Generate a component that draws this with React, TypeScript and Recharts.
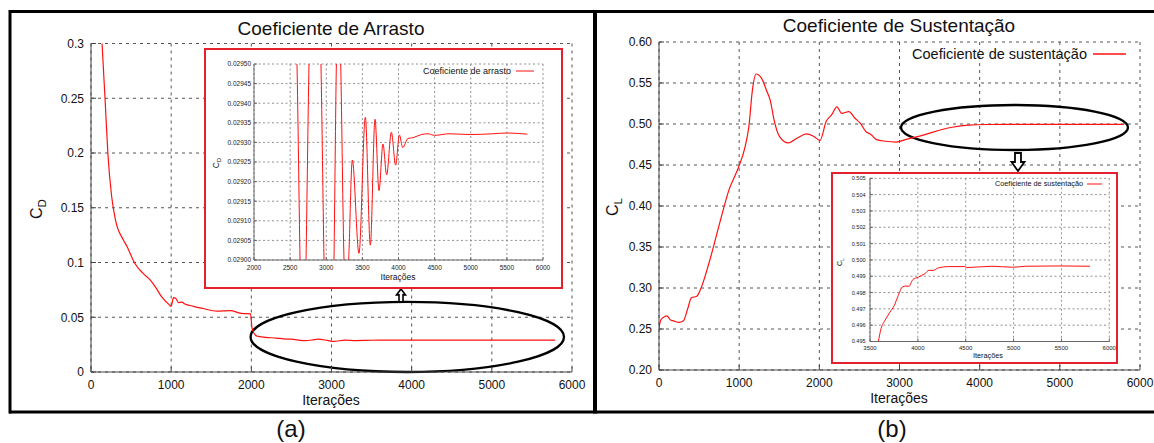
import React from 'react';
import { LineChart, Line, XAxis, YAxis, CartesianGrid, ReferenceArea, ReferenceDot } from 'recharts';

const FONT = '"Liberation Sans", Arial, Helvetica, sans-serif';

// ---------- (a) Coeficiente de Arrasto : main plot ----------
const dragIter = [0, 60, 138, 175, 210, 258, 305, 401, 449, 544, 650, 735, 800, 878, 974, 1000, 1029, 1060, 1091, 1134, 1165, 1279, 1400, 1571, 1737, 1881, 1990, 2009, 2063, 2175, 2310, 2404, 2500, 2644, 2760, 2835, 2950, 3026, 3170, 3300, 3408, 3600, 4000, 4500, 5000, 5500, 5790];
const dragValue = [0.8, 0.45, 0.3, 0.25, 0.2, 0.16, 0.139, 0.121, 0.1147, 0.0995, 0.09, 0.0843, 0.078, 0.069, 0.0615, 0.06, 0.068, 0.067, 0.0634, 0.0638, 0.0624, 0.06, 0.058, 0.0556, 0.056, 0.0535, 0.0531, 0.04, 0.033, 0.0317, 0.031, 0.0302, 0.03, 0.0287, 0.0292, 0.03, 0.0288, 0.0279, 0.0292, 0.0287, 0.0288, 0.0292, 0.0291, 0.0292, 0.0292, 0.0292, 0.0292];
const dragTicksX = [0, 1000, 2000, 3000, 4000, 5000, 6000];
const dragTicksY = [0, 0.05, 0.1, 0.15, 0.2, 0.25, 0.3];

// ---------- (a) inset ----------
const dragZoomIter = [2000, 2300, 2450, 2540, 2595, 2637, 2680, 2720, 2761, 2844, 2927, 2969, 3038, 3107, 3140, 3170, 3200, 3246, 3278, 3310, 3361, 3453, 3541, 3610, 3675, 3730, 3785, 3836, 3901, 3961, 4012, 4058, 4131, 4200, 4316, 4408, 4500, 4700, 5000, 5300, 5500, 5783];
const dragZoomValue = [0.031, 0.0305, 0.0301, 0.0298, 0.0295, 0.029, 0.0286, 0.029, 0.0295, 0.03, 0.0295, 0.029, 0.0284, 0.029, 0.0295, 0.0297, 0.0295, 0.029, 0.0289, 0.029, 0.029255, 0.029017, 0.029364, 0.029038, 0.029359, 0.029177, 0.029296, 0.029217, 0.029326, 0.029242, 0.029319, 0.029287, 0.02931, 0.029312, 0.02932, 0.029322, 0.029318, 0.029322, 0.02932, 0.029322, 0.029324, 0.029321];
const dragZoomTicksX = [2000, 2500, 3000, 3500, 4000, 4500, 5000, 5500, 6000];
const dragZoomTicksY = [0.029, 0.02905, 0.0291, 0.02915, 0.0292, 0.02925, 0.0293, 0.02935, 0.0294, 0.02945, 0.0295];

// ---------- (b) Coeficiente de Sustentação : main plot ----------
const liftIter = [0, 22, 67, 99, 143, 179, 247, 305, 359, 404, 471, 516, 628, 762, 874, 987, 1076, 1121, 1166, 1211, 1278, 1345, 1390, 1435, 1502, 1614, 1726, 1839, 1928, 2009, 2085, 2152, 2220, 2278, 2368, 2444, 2511, 2578, 2646, 2713, 2825, 2960, 3072, 3318, 3520, 3655, 3857, 4081, 4500, 5000, 5800];
const liftValue = [0.251, 0.261, 0.265, 0.266, 0.261, 0.26, 0.258, 0.26, 0.275, 0.288, 0.29, 0.298, 0.332, 0.381, 0.42, 0.446, 0.473, 0.497, 0.542, 0.561, 0.556, 0.54, 0.528, 0.505, 0.485, 0.477, 0.483, 0.488, 0.485, 0.48, 0.503, 0.511, 0.521, 0.513, 0.515, 0.507, 0.501, 0.491, 0.487, 0.481, 0.479, 0.478, 0.481, 0.487, 0.493, 0.496, 0.4987, 0.4994, 0.4996, 0.4996, 0.4996];
const liftTicksX = [0, 1000, 2000, 3000, 4000, 5000, 6000];
const liftTicksY = [0.2, 0.25, 0.3, 0.35, 0.4, 0.45, 0.5, 0.55, 0.6];

// ---------- (b) inset ----------
const liftZoomIter = [3550, 3587, 3615, 3657, 3709, 3754, 3796, 3838, 3873, 3907, 3942, 4005, 4074, 4116, 4162, 4214, 4318, 4492, 4510, 4771, 4997, 5119, 5467, 5798];
const liftZoomValue = [0.494, 0.495, 0.49578, 0.4963, 0.4968, 0.49721, 0.49783, 0.49834, 0.4984, 0.49838, 0.49875, 0.49895, 0.49916, 0.49936, 0.49936, 0.49951, 0.49959, 0.49959, 0.49953, 0.49961, 0.49955, 0.49961, 0.49963, 0.49961];
const liftZoomTicksX = [3500, 4000, 4500, 5000, 5500, 6000];
const liftZoomTicksY = [0.495, 0.496, 0.497, 0.498, 0.499, 0.5, 0.501, 0.502, 0.503, 0.504, 0.505];

// annotation anchors (data coordinates)
const dragEllipse = { x1: 1991, x2: 5900, y1: 0, y2: 0.064 };
const dragArrow = { x: 3867, y: 0.064 };
const liftEllipse = { x1: 3019, x2: 5850, y1: 0.4683, y2: 0.5232 };
const liftArrow = { x: 4478, y: 0.4683 };

const zip = (xs: number[], ys: number[]) => xs.map((x, i) => ({ it: x, v: ys[i] }));
const dragData = zip(dragIter, dragValue);
const dragZoomData = zip(dragZoomIter, dragZoomValue);
const liftData = zip(liftIter, liftValue);
const liftZoomData = zip(liftZoomIter, liftZoomValue);

const RED = '#ff1010';
const BOXRED = '#e3202b';

const ellipseShape = (p: any) => {
  const w = Math.abs(p.width);
  const h = Math.abs(p.height);
  const x = Math.min(p.x, p.x + p.width);
  const y = Math.min(p.y, p.y + p.height);
  return <ellipse cx={x + w / 2} cy={y + h / 2} rx={w / 2} ry={h / 2} fill="none" stroke="#000" strokeWidth={2.3} />;
};

const upArrow = (p: any) => {
  const cx = p.cx, cy = p.cy;
  const d = `M ${cx} ${cy - 13} L ${cx + 4.5} ${cy - 7} L ${cx + 2} ${cy - 7} L ${cx + 2} ${cy} L ${cx - 2} ${cy} L ${cx - 2} ${cy - 7} L ${cx - 4.5} ${cy - 7} Z`;
  return <path d={d} fill="#fff" stroke="#000" strokeWidth={1.6} />;
};

const downArrow = (p: any) => {
  const cx = p.cx, cy = p.cy;
  const d = `M ${cx - 3} ${cy + 3} L ${cx + 3} ${cy + 3} L ${cx + 3} ${cy + 12} L ${cx + 6.5} ${cy + 12} L ${cx} ${cy + 21} L ${cx - 6.5} ${cy + 12} L ${cx - 3} ${cy + 12} Z`;
  return <path d={d} fill="#fff" stroke="#000" strokeWidth={1.8} />;
};

type TProps = { x: number; y: number; size: number; anchor?: 'middle' | 'end'; rotate?: number; children: React.ReactNode };
const T = ({ x, y, size, anchor = 'middle', rotate = 0, children }: TProps) => (
  <div
    style={{
      position: 'absolute',
      left: x,
      top: y,
      fontSize: size,
      fontFamily: FONT,
      lineHeight: 1,
      whiteSpace: 'nowrap',
      color: '#111',
      transform: `translate(${anchor === 'end' ? '-100%' : '-50%'}, -50%) rotate(${rotate}deg)`,
      transformOrigin: anchor === 'end' ? '100% 50%' : '50% 50%',
    }}
  >
    {children}
  </div>
);

const Sub = ({ main, sub }: { main: string; sub: string }) => (
  <span>
    {main}
    <span style={{ fontSize: '0.72em', position: 'relative', top: '0.35em' }}>{sub}</span>
  </span>
);

const mainTick = { fill: '#111', fontSize: 12, fontFamily: FONT };
const AX = '#444';

function App() {
  return (
    <div style={{ position: 'absolute', left: 0, top: 0, width: 1154, height: 443, background: '#fff', overflow: 'hidden', fontFamily: FONT }}>
      {/* (a) main */}
      <div style={{ position: 'absolute', left: 0, top: 0 }}>
        <LineChart width={600} height={443} data={dragData} margin={{ top: 43.5, right: 28, bottom: 41, left: 51 }}>
          <CartesianGrid stroke="#555" strokeDasharray="3 4" />
          <XAxis dataKey="it" type="number" domain={[0, 6000]} ticks={dragTicksX} interval={0} allowDataOverflow height={30}
            tickSize={-5} tickMargin={13} axisLine={{ stroke: AX }} tickLine={{ stroke: AX }} tick={mainTick} />
          <XAxis xAxisId="top" orientation="top" type="number" domain={[0, 6000]} ticks={dragTicksX} interval={0} height={0}
            tickSize={-5} axisLine={{ stroke: AX }} tickLine={{ stroke: AX }} tick={false} />
          <YAxis type="number" domain={[0, 0.3]} ticks={dragTicksY} interval={0} allowDataOverflow width={40}
            tickSize={-5} tickMargin={12} axisLine={{ stroke: AX }} tickLine={{ stroke: AX }} tick={mainTick}
            tickFormatter={(v: number) => String(v)} />
          <YAxis yAxisId="right" orientation="right" type="number" domain={[0, 0.3]} ticks={dragTicksY} interval={0} width={0}
            tickSize={-5} axisLine={{ stroke: AX }} tickLine={{ stroke: AX }} tick={false} />
          <Line dataKey="v" type="monotone" stroke={RED} strokeWidth={1.2} dot={false} isAnimationActive={false} />
          <ReferenceArea x1={dragEllipse.x1} x2={dragEllipse.x2} y1={dragEllipse.y1} y2={dragEllipse.y2} ifOverflow="visible" shape={ellipseShape} />
          <ReferenceDot x={dragArrow.x} y={dragArrow.y} ifOverflow="visible" shape={upArrow} />
        </LineChart>
      </div>

      {/* (b) main */}
      <div style={{ position: 'absolute', left: 596, top: 0 }}>
        <LineChart width={558} height={443} data={liftData} margin={{ top: 42, right: 14, bottom: 43, left: 23 }}>
          <CartesianGrid stroke="#555" strokeDasharray="3 4" />
          <XAxis dataKey="it" type="number" domain={[0, 6000]} ticks={liftTicksX} interval={0} allowDataOverflow height={30}
            tickSize={-5} tickMargin={13} axisLine={{ stroke: AX }} tickLine={{ stroke: AX }} tick={mainTick} />
          <XAxis xAxisId="top" orientation="top" type="number" domain={[0, 6000]} ticks={liftTicksX} interval={0} height={0}
            tickSize={-5} axisLine={{ stroke: AX }} tickLine={{ stroke: AX }} tick={false} />
          <YAxis type="number" domain={[0.2, 0.6]} ticks={liftTicksY} interval={0} allowDataOverflow width={40}
            tickSize={-5} tickMargin={12} axisLine={{ stroke: AX }} tickLine={{ stroke: AX }} tick={mainTick}
            tickFormatter={(v: number) => v.toFixed(2)} />
          <YAxis yAxisId="right" orientation="right" type="number" domain={[0.2, 0.6]} ticks={liftTicksY} interval={0} width={0}
            tickSize={-5} axisLine={{ stroke: AX }} tickLine={{ stroke: AX }} tick={false} />
          <Line dataKey="v" type="monotone" stroke={RED} strokeWidth={1.2} dot={false} isAnimationActive={false} />
          <ReferenceArea x1={liftEllipse.x1} x2={liftEllipse.x2} y1={liftEllipse.y1} y2={liftEllipse.y2} ifOverflow="visible" shape={ellipseShape} />
          <ReferenceDot x={liftArrow.x} y={liftArrow.y} ifOverflow="visible" shape={downArrow} />
        </LineChart>
      </div>

      {/* (a) inset */}
      <div style={{ position: 'absolute', left: 204, top: 48, width: 359, height: 241, boxSizing: 'border-box', border: `2px solid ${BOXRED}`, background: '#fff' }} />
      <div style={{ position: 'absolute', left: 204, top: 48 }}>
        <LineChart width={359} height={241} data={dragZoomData} margin={{ top: 16, right: 20, bottom: 9, left: 10 }}>
          <CartesianGrid stroke="#777" strokeDasharray="2 2.5" strokeWidth={0.8} />
          <XAxis dataKey="it" type="number" domain={[2000, 6000]} ticks={dragZoomTicksX} interval={0} allowDataOverflow height={20}
            tickSize={-3} tickMargin={8} axisLine={{ stroke: '#666' }} tickLine={{ stroke: '#666' }}
            tick={{ fill: '#222', fontSize: 6.5, fontFamily: FONT }} />
          <YAxis type="number" domain={[0.029, 0.0295]} ticks={dragZoomTicksY} interval={0} allowDataOverflow width={40}
            tickSize={-3} tickMargin={6} axisLine={{ stroke: '#666' }} tickLine={{ stroke: '#666' }}
            tick={{ fill: '#222', fontSize: 6.5, fontFamily: FONT }} tickFormatter={(v: number) => v.toFixed(5)} />
          <XAxis xAxisId="top" orientation="top" type="number" domain={[2000, 6000]} ticks={dragZoomTicksX} interval={0} height={0}
            tickSize={-3} axisLine={{ stroke: '#666' }} tickLine={{ stroke: '#666' }} tick={false} />
          <YAxis yAxisId="right" orientation="right" type="number" domain={[0.029, 0.0295]} ticks={dragZoomTicksY} interval={0} width={0}
            tickSize={-3} axisLine={{ stroke: '#666' }} tickLine={{ stroke: '#666' }} tick={false} />
          <Line dataKey="v" type="monotone" stroke={RED} strokeWidth={1} dot={false} isAnimationActive={false} />
        </LineChart>
      </div>

      {/* (b) inset */}
      <div style={{ position: 'absolute', left: 831, top: 172, width: 287, height: 192, boxSizing: 'border-box', border: `2px solid ${BOXRED}`, background: '#fff' }} />
      <div style={{ position: 'absolute', left: 831, top: 172 }}>
        <LineChart width={287} height={192} data={liftZoomData} margin={{ top: 6.3, right: 8.7, bottom: 7.5, left: 9 }}>
          <CartesianGrid stroke="#777" strokeDasharray="2 2.5" strokeWidth={0.8} />
          <XAxis dataKey="it" type="number" domain={[3500, 6000]} ticks={liftZoomTicksX} interval={0} allowDataOverflow height={15}
            tickSize={-3} tickMargin={7} axisLine={{ stroke: '#666' }} tickLine={{ stroke: '#666' }}
            tick={{ fill: '#222', fontSize: 6, fontFamily: FONT }} />
          <YAxis type="number" domain={[0.495, 0.505]} ticks={liftZoomTicksY} interval={0} allowDataOverflow width={30}
            tickSize={-3} tickMargin={7.3} axisLine={{ stroke: '#666' }} tickLine={{ stroke: '#666' }}
            tick={{ fill: '#222', fontSize: 5.6, fontFamily: FONT }} tickFormatter={(v: number) => v.toFixed(3)} />
          <XAxis xAxisId="top" orientation="top" type="number" domain={[3500, 6000]} ticks={liftZoomTicksX} interval={0} height={0}
            tickSize={-3} axisLine={{ stroke: '#666' }} tickLine={{ stroke: '#666' }} tick={false} />
          <YAxis yAxisId="right" orientation="right" type="number" domain={[0.495, 0.505]} ticks={liftZoomTicksY} interval={0} width={0}
            tickSize={-3} axisLine={{ stroke: '#666' }} tickLine={{ stroke: '#666' }} tick={false} />
          <Line dataKey="v" type="monotone" stroke={RED} strokeWidth={1} dot={false} isAnimationActive={false} />
        </LineChart>
      </div>

      {/* titles & labels */}
      <T x={331} y={28} size={19}>Coeficiente de Arrasto</T>
      <T x={899} y={25} size={19}>Coeficiente de Sustentação</T>
      <T x={331} y={400} size={14}>Iterações</T>
      <T x={899} y={398} size={14}>Iterações</T>
      <T x={37} y={209} size={16} rotate={-90}><Sub main="C" sub="D" /></T>
      <T x={613} y={207} size={16} rotate={-90}><Sub main="C" sub="L" /></T>
      <T x={291} y={428.5} size={24}>(a)</T>
      <T x={892} y={428.5} size={24}>(b)</T>

      {/* legends */}
      <T x={1087} y={54} size={14.5} anchor="end">Coeficiente de sustentação</T>
      <T x={511} y={71} size={9} anchor="end">Coeficiente de arrasto</T>
      <T x={1083} y={184} size={7.3} anchor="end">Coeficiente de sustentação</T>

      {/* inset axis labels */}
      <T x={398} y={277} size={8.5}>Iterações</T>
      <T x={216} y={163} size={8.5} rotate={-90}><Sub main="C" sub="D" /></T>
      <T x={988} y={356} size={7.3}>Iterações</T>
      <T x={840} y={262} size={7} rotate={-90}><Sub main="C" sub="L" /></T>

      {/* legend samples and outer frame */}
      <svg width={1154} height={443} style={{ position: 'absolute', left: 0, top: 0, pointerEvents: 'none' }}>
        <line x1={1093} y1={54} x2={1126} y2={54} stroke={RED} strokeWidth={1.5} />
        <line x1={516} y1={71} x2={534} y2={71} stroke={RED} strokeWidth={1} />
        <line x1={1087} y1={184} x2={1102} y2={184} stroke={RED} strokeWidth={1} />
        <line x1={9} y1={11.5} x2={1154} y2={11.5} stroke="#000" strokeWidth={3} />
        <line x1={9} y1={412} x2={1154} y2={412} stroke="#000" strokeWidth={3} />
        <line x1={10} y1={10} x2={10} y2={413.5} stroke="#000" strokeWidth={3} />
        <line x1={595} y1={10} x2={595} y2={413.5} stroke="#000" strokeWidth={4} />
      </svg>
    </div>
  );
}

export default App;
